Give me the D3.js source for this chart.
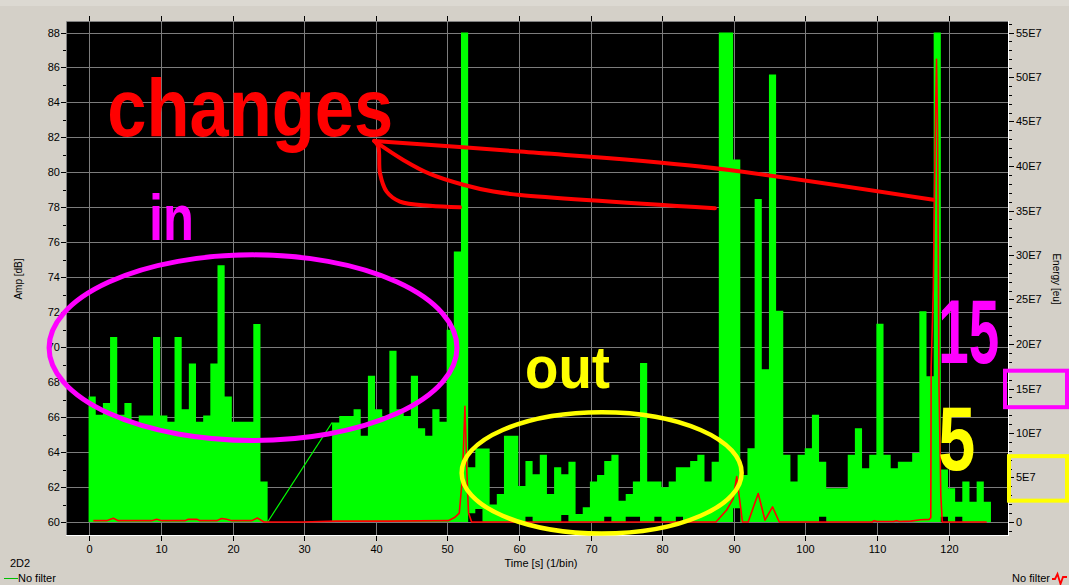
<!DOCTYPE html>
<html><head><meta charset="utf-8">
<script src="https://cdn.jsdelivr.net/npm/d3@7"></script>
<style>
html,body{margin:0;padding:0;background:#d4d0c8;}
svg{display:block;}
text{font-family:"Liberation Sans",Arial,sans-serif;}
</style></head><body>
<svg id="c" width="1069" height="585"></svg>
<script>
// ---------- data ----------
// Amplitude (dB) per 1-s bin, bin index = time; null = no data
const ampHigh = [67.18,66.13,66.8,70.58,66.13,66.8,65.74,66.09,66.09,70.58,
  66.09,65.74,70.58,66.45,69.07,65.74,66.09,69.07,74.68,67.18,
  65.74,65.74,65.74,71.32,62.31,null,null,null,null,null,
  null,null,null,null,65.69,66.07,66.07,66.45,64.93,68.36,
  66.45,66.07,69.79,66.45,66.07,68.36,65.36,64.93,66.45,65.74,
  71.0,75.48,88,63.13,64.2,64.2,61.0,61.6,64.93,64.93,
  62.06,63.49,62.73,63.84,61.6,63.13,62.73,63.45,60.46,60.84,
  62.31,62.69,63.49,63.84,61.22,61.6,62.31,69.09,62.31,62.31,
  61.99,62.31,63.13,63.13,63.49,63.84,62.31,63.45,88,88,
  80.73,62.69,64.22,78.48,68.74,85.6,72.08,63.84,62.31,63.84,
  64.22,66.13,63.45,61.93,61.93,61.93,63.84,65.36,63.07,63.84,
  71.34,63.84,63.07,63.45,63.45,63.95,72.06,68.34,88,63.0,
  61.93,61.16,62.31,61.16,62.31,61.16];
// bins whose minimum lies above the 60 dB floor
const lowBins = [53,54,61,66,72,75,76,79,82,90,102,119,121];
const lowValues = [60.5,60.75,60.3,60.4,60.3,60.3,60.3,60.3,60.3,60.78,60.3,60.3,60.3];
const ampFloor = 60;
const binOffset = -0.1;

// Energy (units of 1E7 eu)
const energyTime = [0.56,2.43,3.35,4.05,8.71,9.41,10.1,13.36,13.82,15.0,15.46,17.79,18.49,19.18,19.88,
  22.68,23.46,24.39,29.88,34.54,41.75,50.13,51.0,51.66,52.1,52.45,52.75,52.95,53.39,
  87.5,89.0,89.9,90.4,91.2,92.0,93.4,94.35,95.4,96.34,109.3,109.6,110.0,112.3,112.7,113.1,
  114.7,116.1,117.3,117.5,117.55,117.85,118.15,118.3,118.45,118.65,118.9,119.1,125.3];
const energyValue = [0.15,0.15,0.42,0.15,0.15,0.3,0.15,0.15,0.3,0.3,0.15,0.15,0.4,0.3,0.15,
  0.15,0.45,0,0,0.1,0.1,0.15,0.5,1.0,5,13.0,5,1.0,0,
  0,1.35,2.6,5.1,0,0,3.2,0.2,1.7,0,0,0.15,0.05,0.05,0.15,0.05,
  0.1,0.25,0.3,0.5,17.3,26,45,52.0,44,15,3,0,0];

// axes
const ampTicks = [60,62,64,66,68,70,72,74,76,78,80,82,84,86,88];
const ampMinor = [61,63,65,67,69,71,73,75,77,79,81,83,85,87];
const timeTicks = [0,10,20,30,40,50,60,70,80,90,100,110,120];
const energyTicks = [0,5,10,15,20,25,30,35,40,45,50,55];
const energyLabels = ["0","5E7","10E7","15E7","20E7","25E7","30E7","35E7","40E7","45E7","50E7","55E7"];
const energyMinor = d3.range(-1,57).filter(v => v % 5 !== 0);

// hand-drawn annotations (data coordinates: time, dB)
const arrowToFirst  = [[39.79,81.8],[40.35,81.47],[40.59,79.95],[41.52,78.9],[43.38,78.33],[47.57,78.09],[51.76,78.01]];
const arrowToSecond = [[39.79,81.8],[43.84,80.71],[47.57,79.91],[52.22,79.29],[56.41,78.9],[60.14,78.71],[87.36,77.95]];
const arrowToThird  = [[39.79,81.8],[60.14,81.19],[85.27,80.33],[117.85,78.43]];
const ellipseIn  = {t:22.86, db:69.97, rt:28.48, rdb:5.31};
const ellipseOut = {t:71.54, db:62.81, rt:19.55, rdb:3.47};

// ---------- drawing ----------
const W = 1069, H = 585;
const PL = 67, PR = 1008, PT = 22, PB = 535;
const svg = d3.select('#c');

const x = d3.scaleLinear().domain([0,120]).range([89.3,948.7]);
const y = d3.scaleLinear().domain([60,88]).range([522,32.5]);
const e = d3.scaleLinear().domain([0,55]).range([522,32.5]);
const xr = x.copy().interpolate(d3.interpolateRound);
const yr = y.copy().interpolate(d3.interpolateRound);
const er = e.copy().interpolate(d3.interpolateRound);

svg.append('rect').attr('width',W).attr('height',H).attr('fill','#d4d0c8');
svg.append('rect').attr('width',W).attr('height',6).attr('fill','#dcd9d2');

svg.append('defs').append('clipPath').attr('id','plotclip')
  .append('rect').attr('x',PL).attr('y',PT).attr('width',PR-PL).attr('height',PB-PT);

svg.append('rect').attr('x',PL).attr('y',PT).attr('width',PR-PL).attr('height',PB-PT).attr('fill','#000');

// grid
const grid = svg.append('g').attr('stroke','#7c7c7c').attr('stroke-width',1).attr('clip-path','url(#plotclip)');
timeTicks.forEach(t => grid.append('line').attr('x1',xr(t)+0.5).attr('x2',xr(t)+0.5).attr('y1',PT).attr('y2',PB));
ampTicks.forEach(a => grid.append('line').attr('y1',yr(a)+0.5).attr('y2',yr(a)+0.5).attr('x1',PL).attr('x2',PR));

const plot = svg.append('g').attr('clip-path','url(#plotclip)');

// green amplitude fill
const lowOf = k => { const i = lowBins.indexOf(k); return i >= 0 ? lowValues[i] : ampFloor; };
const pts = [];
ampHigh.forEach((v,k) => {
  if (v == null) { pts.push(null); return; }
  pts.push({t:k+binOffset, hi:v, lo:lowOf(k)});
  if (k === ampHigh.length-1 || ampHigh[k+1] == null) {
    pts.push({t:k+1+binOffset, hi:v, lo:lowOf(k)});
    pts.push(null);
  }
});
const area = d3.area().defined(d => d != null).curve(d3.curveStepAfter)
  .x(d => x(d.t)).y0(d => y(d.lo)).y1(d => y(d.hi));
plot.append('path').attr('d', area(pts)).attr('fill','#00ff00');

// connector line across data gaps
for (let k = 0; k < ampHigh.length-1; k++) {
  if (ampHigh[k] != null && ampHigh[k+1] == null) {
    let j = k+1; while (j < ampHigh.length && ampHigh[j] == null) j++;
    if (j < ampHigh.length) {
      plot.append('line')
        .attr('x1',x(k+1+binOffset)).attr('y1',y(ampFloor))
        .attr('x2',x(j+binOffset)).attr('y2',y(ampHigh[j]))
        .attr('stroke','#00ff00').attr('stroke-width',1.2);
    }
  }
}

// red energy line
const eLine = d3.line().x(d => x(d[0])).y(d => e(d[1]));
plot.append('path').attr('d', eLine(energyTime.map((t,i)=>[t,energyValue[i]])))
  .attr('fill','none').attr('stroke','#ff0000').attr('stroke-width',1.6).attr('stroke-linejoin','round');

// frame (sunken)
svg.append('line').attr('x1',PL-0.5).attr('x2',PR).attr('y1',PT-0.5).attr('y2',PT-0.5).attr('stroke','#808080');
svg.append('line').attr('x1',PL-0.5).attr('x2',PL-0.5).attr('y1',PT-0.5).attr('y2',PB).attr('stroke','#808080');
svg.append('line').attr('x1',PL-1).attr('x2',PR+1).attr('y1',PB+0.5).attr('y2',PB+0.5).attr('stroke','#ffffff');
svg.append('line').attr('x1',PR+0.5).attr('x2',PR+0.5).attr('y1',PT-1).attr('y2',PB+1).attr('stroke','#ffffff');

// axes
function styleAxis(g){
  g.select('.domain').remove();
  g.attr('font-family','"Liberation Sans",Arial,sans-serif').attr('font-size',11).attr('color','#000');
}
svg.append('g').attr('transform',`translate(${PL-1},0)`)
  .call(d3.axisLeft(yr).tickValues(ampTicks).tickSize(5).tickPadding(1).tickFormat(d3.format('d'))).call(styleAxis);
svg.append('g').attr('transform',`translate(${PL-1},0)`)
  .call(d3.axisLeft(yr).tickValues(ampMinor).tickSize(3).tickFormat('')).call(styleAxis);
svg.append('g').attr('transform',`translate(0,${PB+1})`)
  .call(d3.axisBottom(xr).tickValues(timeTicks).tickSize(5).tickPadding(4)).call(styleAxis);
svg.append('g').attr('transform',`translate(0,${PT-1})`)
  .call(d3.axisTop(xr).tickValues(timeTicks).tickSize(5).tickFormat('')).call(styleAxis);
svg.append('g').attr('transform',`translate(${PR+1},0)`)
  .call(d3.axisRight(er).tickValues(energyTicks).tickSize(5).tickPadding(2).tickFormat((d,i)=>energyLabels[i])).call(styleAxis);
svg.append('g').attr('transform',`translate(${PR+1},0)`)
  .call(d3.axisRight(er).tickValues(energyMinor).tickSize(3).tickFormat('')).call(styleAxis);

// axis titles & legend
const lab = (txt,xx,yy,opt={}) => svg.append('text').text(txt).attr('x',xx).attr('y',yy)
  .attr('font-size',opt.size||11).attr('text-anchor',opt.anchor||'start').attr('fill','#000');
svg.append('text').text('Amp [dB]').attr('transform','translate(22,279) rotate(-90)')
  .attr('text-anchor','middle').attr('font-size',10).attr('fill','#000');
svg.append('text').text('Energy [eu]').attr('transform','translate(1053,279) rotate(90)')
  .attr('text-anchor','middle').attr('font-size',10).attr('fill','#000');
lab('Time [s] (1/bin)', 541, 567, {anchor:'middle'});
lab('2D2', 10, 567);
svg.append('line').attr('x1',4).attr('x2',18).attr('y1',578.5).attr('y2',578.5).attr('stroke','#00c000').attr('stroke-width',1);
lab('No filter', 18, 582);
lab('No filter', 1050, 582, {anchor:'end'});
svg.append('path').attr('d','M1052,579 L1055,579 L1057.5,574 L1060.5,584 L1063,577 L1067,577')
  .attr('fill','none').attr('stroke','#ff0000').attr('stroke-width',1.8);

// ---------- annotations ----------
const ann = svg.append('g');
const curve = d3.line().curve(d3.curveCatmullRom.alpha(0.5)).x(d => x(d[0])).y(d => y(d[1]));
[arrowToFirst, arrowToSecond, arrowToThird].forEach(a =>
  ann.append('path').attr('d', curve(a)).attr('fill','none').attr('stroke','#ff0000')
    .attr('stroke-width',4).attr('stroke-linecap','round').attr('stroke-linejoin','round'));

const drawEllipse = (el, col, sw) => ann.append('ellipse')
  .attr('cx', x(el.t)).attr('cy', y(el.db))
  .attr('rx', x(el.t+el.rt)-x(el.t)).attr('ry', y(el.db)-y(el.db+el.rdb))
  .attr('fill','none').attr('stroke',col).attr('stroke-width',sw);
drawEllipse(ellipseIn, '#ff00ff', 5);
drawEllipse(ellipseOut, '#ffff00', 4.5);

// big hand-written labels, condensed horizontally to their drawn width
const bigText = (txt, t, db, size, len, col) => {
  const node = ann.append('text').text(txt)
    .attr('font-family','"DejaVu Sans",sans-serif').attr('font-weight','bold')
    .attr('font-size', size).attr('fill', col);
  const natural = node.node().getComputedTextLength();
  node.attr('transform', `translate(${x(t)},${y(db)}) scale(${len/natural},1)`);
};
bigText('changes', 2.51, 82.09, 82, 286, '#ff0000');
bigText('in', 8.34, 76.14, 64, 45, '#ff00ff');
bigText('out', 60.84, 67.67, 60, 85, '#ffff00');
bigText('15', 118.54, 69.1, 91, 61, '#ff00ff');
bigText('5', 118.54, 63.0, 91, 37, '#ffff00');

// boxes around the 15E7 and 5E7 tick labels
ann.append('rect').attr('x',PR-3).attr('y',e(17.0)).attr('width',W-2-(PR-3)).attr('height',e(12.9)-e(17.0))
  .attr('fill','none').attr('stroke','#ff00ff').attr('stroke-width',4);
ann.append('rect').attr('x',PR+1).attr('y',e(7.4)).attr('width',W-2-(PR+1)).attr('height',e(2.4)-e(7.4))
  .attr('fill','none').attr('stroke','#ffff00').attr('stroke-width',4);
</script>
</body></html>
